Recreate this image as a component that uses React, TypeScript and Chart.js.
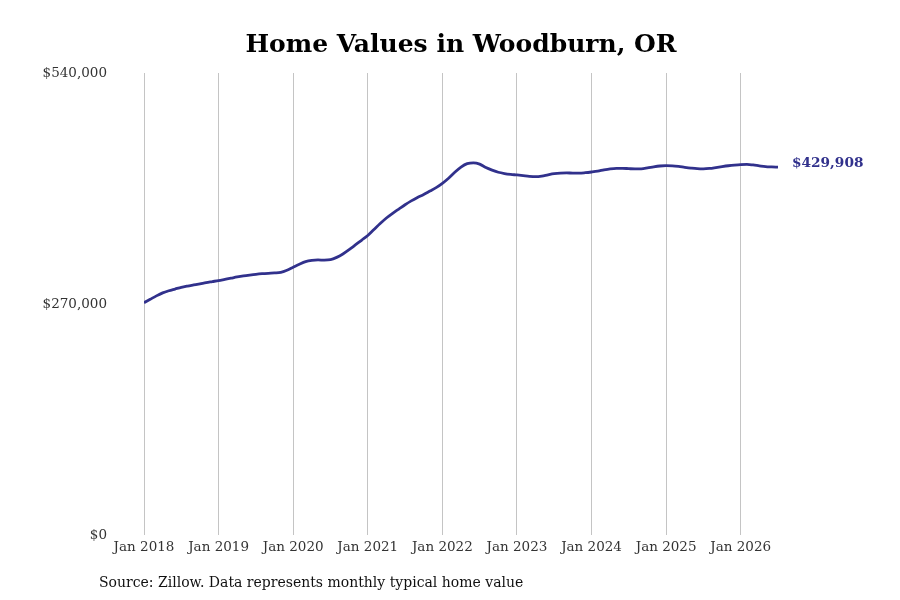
import { useEffect, useRef } from 'react'
import { Chart, registerables } from 'chart.js'

Chart.register(...registerables)

// Monthly typical home value, Jan 2018 -> Jul 2026
const VALUES_2018 = [271500, 275500, 279500, 283000, 285500, 287500, 289500, 291000, 292300, 293600, 295000, 296200]
const VALUES_2019 = [297400, 298800, 300200, 301600, 302800, 303800, 304700, 305400, 305900, 306300, 307000, 309500]
const VALUES_2020 = [313000, 316500, 319500, 321000, 321500, 321300, 321800, 324500, 328500, 333500, 339000, 344500]
const VALUES_2021 = [350000, 357000, 364000, 370500, 376000, 381000, 386000, 390500, 394500, 398000, 402000, 406000]
const VALUES_2022 = [411000, 417000, 424000, 430000, 434000, 435000, 433500, 429500, 426500, 424000, 422500, 421500]
const VALUES_2023 = [420800, 420000, 419200, 418800, 419500, 421000, 422300, 423000, 423200, 423000, 423000, 423500]
const VALUES_2024 = [424300, 425300, 426800, 428000, 428600, 428600, 428200, 427900, 428000, 429000, 430300, 431300]
const VALUES_2025 = [431700, 431500, 430800, 429800, 428900, 428200, 428000, 428500, 429500, 430600, 431600, 432400]
const VALUES_2026 = [433000, 433200, 432500, 431500, 430600, 430200, 429908]

const VALUES = [
  ...VALUES_2018, ...VALUES_2019, ...VALUES_2020, ...VALUES_2021, ...VALUES_2022,
  ...VALUES_2023, ...VALUES_2024, ...VALUES_2025, ...VALUES_2026,
]

const YEAR_TICKS = ['Jan 2018', 'Jan 2019', 'Jan 2020', 'Jan 2021', 'Jan 2022', 'Jan 2023', 'Jan 2024', 'Jan 2025', 'Jan 2026']
const Y_TICKS = [0, 270000, 540000]

const TITLE = 'Home Values in Woodburn, OR'
const LINE_COLOR = '#31318c'
const FONT = '"DejaVu Serif", serif'

const fmt = (v: number) => '$' + v.toLocaleString('en-US')

// title centred on the page, not on the padded box
const pageTitle = {
  id: 'pageTitle',
  afterDraw(chart: Chart) {
    const { ctx } = chart
    ctx.save()
    ctx.font = `bold 25px ${FONT}`
    ctx.fillStyle = '#000'
    ctx.textAlign = 'center'
    ctx.textBaseline = 'middle'
    ctx.fillText(TITLE, 461, 45)
    ctx.restore()
  },
}

// label next to the last point
const endLabel = {
  id: 'endLabel',
  afterDatasetsDraw(chart: Chart) {
    const meta = chart.getDatasetMeta(0)
    const last = meta.data[meta.data.length - 1]
    if (!last) return
    const { ctx } = chart
    ctx.save()
    ctx.font = `bold 13.7px ${FONT}`
    ctx.fillStyle = LINE_COLOR
    ctx.textAlign = 'left'
    ctx.textBaseline = 'middle'
    ctx.fillText(fmt(VALUES[VALUES.length - 1]), last.x + 14, last.y - 4)
    ctx.restore()
  },
}

export default function App() {
  const canvasRef = useRef<HTMLCanvasElement>(null)

  useEffect(() => {
    if (!canvasRef.current) return
    const chart = new Chart(canvasRef.current, {
      type: 'line',
      data: {
        datasets: [
          {
            data: VALUES.map((v, i) => ({ x: i, y: v })),
            borderColor: LINE_COLOR,
            borderWidth: 2.8,
            pointRadius: 0,
            tension: 0.4,
            cubicInterpolationMode: 'monotone',
            fill: false,
          },
        ],
      },
      options: {
        animation: false,
        responsive: false,
        layout: { padding: { left: 0, right: 122, top: 73, bottom: 39 } },
        plugins: {
          legend: { display: false },
          tooltip: { enabled: false },
          title: { display: false },
        },
        scales: {
          x: {
            type: 'linear',
            min: 0,
            max: VALUES.length - 1,
            afterBuildTicks: (scale: any) => {
              scale.ticks = YEAR_TICKS.map((_, i) => ({ value: i * 12 }))
            },
            afterFit: (scale: any) => {
              scale.height = 26
            },
            ticks: {
              autoSkip: false,
              maxRotation: 0,
              padding: 4,
              color: '#333',
              font: { family: FONT, size: 13.5 },
              callback: (v: any) => YEAR_TICKS[Math.round(Number(v) / 12)] ?? '',
            },
            grid: { color: '#c4c4c4', lineWidth: 1, drawTicks: false },
            border: { display: false },
          },
          y: {
            min: 0,
            max: 540000,
            afterBuildTicks: (scale: any) => {
              scale.ticks = Y_TICKS.map(v => ({ value: v }))
            },
            afterFit: (scale: any) => {
              scale.width = 144
            },
            ticks: {
              padding: 37,
              color: '#333',
              font: { family: FONT, size: 13.5 },
              callback: (v: any) => fmt(Number(v)),
            },
            grid: { display: false, drawTicks: false },
            border: { display: false },
          },
        },
      },
      plugins: [endLabel, pageTitle],
    })
    return () => chart.destroy()
  }, [])

  return (
    <div style={{ position: 'fixed', left: 0, top: 0, width: 900, height: 600, background: '#fff' }}>
      <canvas ref={canvasRef} width={900} height={600} style={{ width: 900, height: 600 }} />
      <div
        style={{
          position: 'absolute',
          left: 99,
          top: 574,
          fontFamily: FONT,
          fontSize: 14,
          color: '#111',
          whiteSpace: 'nowrap',
        }}
      >
        Source: Zillow. Data represents monthly typical home value
      </div>
    </div>
  )
}
